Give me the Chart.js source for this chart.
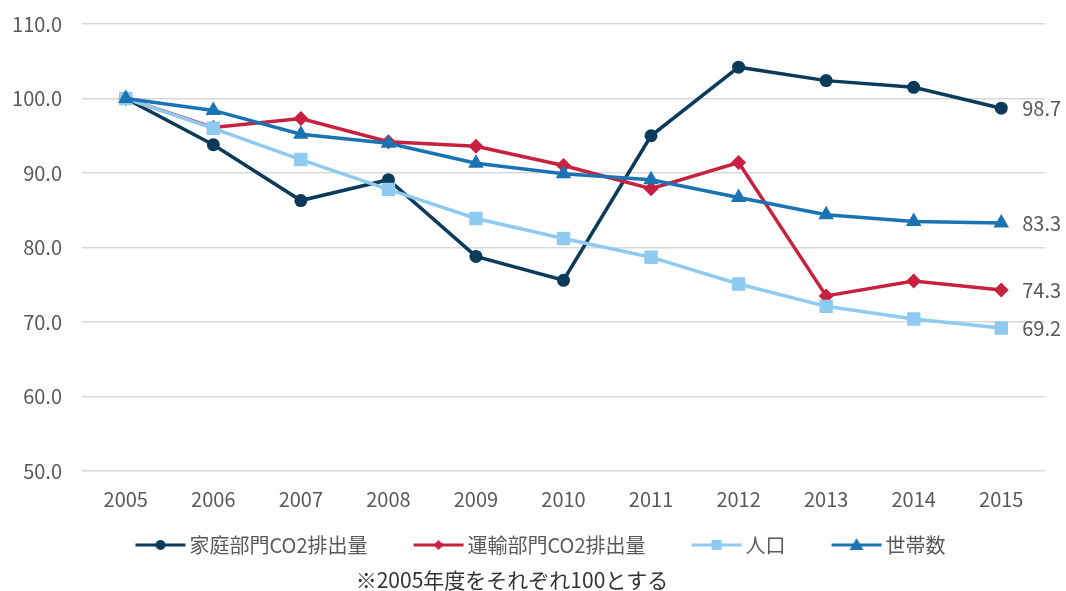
<!DOCTYPE html>
<html>
<head>
<meta charset="utf-8">
<script src="https://cdn.jsdelivr.net/npm/chart.js@4/dist/chart.umd.min.js"></script>
<style>
  html, body { margin: 0; padding: 0; background: #fff; }
  #wrap { width: 1066px; height: 591px; }
</style>
</head>
<body>
<div id="wrap"><canvas id="myChart"></canvas></div>
<script>
const years = ["2005", "2006", "2007", "2008", "2009", "2010", "2011", "2012", "2013", "2014", "2015"];
const homeCO2 = [100, 93.8, 86.3, 89.1, 78.8, 75.6, 95.0, 104.2, 102.4, 101.5, 98.7];
const transportCO2 = [100, 96.1, 97.3, 94.2, 93.6, 91.0, 87.9, 91.4, 73.5, 75.5, 74.3];
const population = [100, 96.0, 91.8, 87.8, 83.9, 81.2, 78.7, 75.1, 72.1, 70.4, 69.2];
const households = [100, 98.4, 95.2, 94.0, 91.3, 89.9, 89.1, 86.7, 84.4, 83.5, 83.3];
const yTicks = [50, 60, 70, 80, 90, 100, 110];

const fontFamily = "'Noto Sans CJK JP', 'Noto Sans', sans-serif";
const textColor = "#595959";
const fontSize = 20;

// legend picture: transparent gap on the left, then line + marker
// (chart.js centres it on the 80px box, so it is 100px wide)
function legendIcon(color, style, r) {
  const c = document.createElement("canvas");
  c.width = 100;
  c.height = 20;
  const g = c.getContext("2d");
  g.strokeStyle = color;
  g.lineWidth = 3;
  g.beginPath();
  g.moveTo(46, 10);
  g.lineTo(96, 10);
  g.stroke();
  g.fillStyle = color;
  g.beginPath();
  const cx = 71;
  if (style === "circle") {
    g.arc(cx, 10, r, 0, Math.PI * 2);
  } else if (style === "rectRot") {
    g.moveTo(cx, 10 - r); g.lineTo(cx + r, 10); g.lineTo(cx, 10 + r); g.lineTo(cx - r, 10);
  } else if (style === "rect") {
    g.rect(cx - r, 10 - r, r * 2, r * 2);
  } else {
    g.moveTo(cx, 10 - r); g.lineTo(cx + r, 10 + r * 0.7); g.lineTo(cx - r, 10 + r * 0.7);
  }
  g.closePath();
  g.fill();
  return c;
}

const series = [
  { label: "家庭部門CO2排出量", data: homeCO2, color: "#0b3a5b", style: "circle", radius: 6.5, order: 4 },
  { label: "運輸部門CO2排出量", data: transportCO2, color: "#c8213f", style: "rectRot", radius: 7.5, order: 3 },
  { label: "人口", data: population, color: "#8fcaf0", style: "rect", radius: 9.5, order: 2 },
  { label: "世帯数", data: households, color: "#1a74b3", style: "triangle", radius: 9, order: 1 }
];

const endLabels = {
  id: "endLabels",
  afterDatasetsDraw(chart) {
    const ctx = chart.ctx;
    ctx.save();
    ctx.font = fontSize + "px " + fontFamily;
    ctx.fillStyle = textColor;
    ctx.textBaseline = "middle";
    chart.data.datasets.forEach((ds, i) => {
      const meta = chart.getDatasetMeta(i);
      const last = meta.data[meta.data.length - 1];
      ctx.fillText(ds.data[ds.data.length - 1].toFixed(1), last.x + 21, last.y);
    });
    ctx.restore();
  }
};

const footNote = {
  id: "footNote",
  afterDraw(chart) {
    const ctx = chart.ctx;
    ctx.save();
    ctx.font = "21px " + fontFamily;
    ctx.fillStyle = "#333333";
    ctx.textAlign = "center";
    ctx.textBaseline = "middle";
    ctx.fillText("※2005年度をそれぞれ100とする", 512, 580);
    ctx.restore();
  }
};

const ctx = document.getElementById("myChart").getContext("2d");
const myChart = new Chart(ctx, {
  type: "line",
  data: {
    labels: years,
    datasets: series.map(s => ({
      label: s.label,
      data: s.data,
      borderColor: s.color,
      backgroundColor: s.color,
      borderWidth: 3.5,
      pointStyle: s.style,
      pointRadius: s.radius,
      pointHoverRadius: s.radius,
      pointBorderWidth: 0,
      tension: 0,
      order: s.order
    }))
  },
  options: {
    responsive: true,
    maintainAspectRatio: false,
    animation: false,
    layout: { padding: { left: 0, right: 21, top: 24, bottom: 26 } },
    plugins: {
      tooltip: { enabled: false },
      legend: {
        position: "bottom",
        labels: {
          usePointStyle: true,
          pointStyleWidth: 80,
          padding: 10,
          color: textColor,
          font: { family: fontFamily, size: fontSize },
          generateLabels(chart) {
            return series.map((s, i) => ({
              text: s.label,
              fillStyle: s.color,
              strokeStyle: s.color,
              lineWidth: 0,
              pointStyle: legendIcon(s.color, s.style, s.style === "triangle" ? 7 : 5),
              hidden: false,
              datasetIndex: i,
              fontColor: textColor
            }));
          }
        }
      }
    },
    scales: {
      x: {
        offset: true,
        grid: { display: false, drawTicks: false },
        border: { display: false },
        ticks: { color: textColor, padding: 16, font: { family: fontFamily, size: fontSize } },
        afterFit(axis) {
          axis.height = 54;
          axis.paddingLeft = 0;
          axis.paddingRight = 0;
        }
      },
      y: {
        min: 50,
        max: 110,
        afterBuildTicks(axis) { axis.ticks = yTicks.map(v => ({ value: v })); },
        grid: { color: "#d9d9d9", lineWidth: 1.5, drawTicks: false },
        border: { display: false },
        ticks: {
          color: textColor,
          padding: 20,
          font: { family: fontFamily, size: fontSize },
          callback: v => v.toFixed(1)
        },
        afterFit(axis) {
          axis.width = 82;
          axis.paddingTop = 0;
          axis.paddingBottom = 0;
        }
      }
    }
  },
  plugins: [endLabels, footNote]
});
</script>
</body>
</html>
